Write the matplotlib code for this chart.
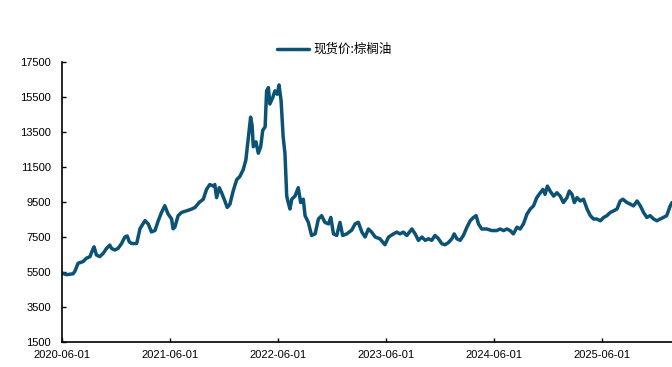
import matplotlib
matplotlib.use("Agg")
import matplotlib.pyplot as plt
import matplotlib.dates as mdates
import pandas as pd

plt.rcParams['font.family'] = ['Liberation Sans', 'Noto Sans CJK SC', 'DejaVu Sans']

series_name = "现货价:棕榈油"

dates = [
    "2020-06-01", "2020-06-17", "2020-07-09", "2020-07-15", "2020-07-26", "2020-08-12",
    "2020-08-23", "2020-09-04", "2020-09-15", "2020-09-18", "2020-09-26", "2020-10-07",
    "2020-10-19", "2020-10-30", "2020-11-10", "2020-11-16", "2020-11-27", "2020-12-08",
    "2020-12-20", "2020-12-31", "2021-01-08", "2021-01-15", "2021-01-23", "2021-02-09",
    "2021-02-20", "2021-03-09", "2021-03-20", "2021-03-31", "2021-04-12", "2021-04-23",
    "2021-05-04", "2021-05-15", "2021-05-26", "2021-06-07", "2021-06-12", "2021-06-18",
    "2021-06-29", "2021-07-11", "2021-07-28", "2021-08-14", "2021-08-25", "2021-09-08",
    "2021-09-22", "2021-10-03", "2021-10-14", "2021-10-26", "2021-10-31", "2021-11-06",
    "2021-11-15", "2021-11-23", "2021-12-04", "2021-12-12", "2021-12-21", "2022-01-01",
    "2022-01-13", "2022-01-24", "2022-02-04", "2022-02-13", "2022-02-18", "2022-02-24",
    "2022-03-01", "2022-03-06", "2022-03-10", "2022-03-19", "2022-03-27", "2022-04-04",
    "2022-04-11", "2022-04-19", "2022-04-24", "2022-04-30", "2022-05-05", "2022-05-15",
    "2022-05-22", "2022-05-30", "2022-06-05", "2022-06-12", "2022-06-19", "2022-06-25",
    "2022-07-01", "2022-07-06", "2022-07-12", "2022-07-18", "2022-07-29", "2022-08-09",
    "2022-08-17", "2022-08-26", "2022-09-01", "2022-09-12", "2022-09-23", "2022-10-05",
    "2022-10-16", "2022-10-27", "2022-11-07", "2022-11-19", "2022-11-27", "2022-12-06",
    "2022-12-17", "2022-12-28", "2023-01-06", "2023-01-20", "2023-02-06", "2023-02-17",
    "2023-02-28", "2023-03-12", "2023-03-23", "2023-04-03", "2023-04-14", "2023-04-26",
    "2023-05-12", "2023-05-29", "2023-06-10", "2023-06-27", "2023-07-08", "2023-07-19",
    "2023-07-30", "2023-08-11", "2023-08-28", "2023-09-08", "2023-09-19", "2023-10-01",
    "2023-10-12", "2023-10-23", "2023-11-03", "2023-11-14", "2023-11-26", "2023-12-07",
    "2023-12-18", "2023-12-29", "2024-01-10", "2024-01-18", "2024-01-27", "2024-02-07",
    "2024-02-18", "2024-03-01", "2024-03-12", "2024-03-23", "2024-04-01", "2024-04-09",
    "2024-04-20", "2024-05-07", "2024-05-24", "2024-06-10", "2024-06-21", "2024-07-03",
    "2024-07-14", "2024-07-25", "2024-08-05", "2024-08-17", "2024-08-28", "2024-09-08",
    "2024-09-20", "2024-10-01", "2024-10-12", "2024-10-23", "2024-11-04", "2024-11-13",
    "2024-11-20", "2024-11-28", "2024-12-07", "2024-12-19", "2024-12-30", "2025-01-10",
    "2025-01-21", "2025-02-02", "2025-02-10", "2025-02-19", "2025-02-27", "2025-03-08",
    "2025-03-19", "2025-03-30", "2025-04-11", "2025-04-22", "2025-05-03", "2025-05-14",
    "2025-05-26", "2025-06-06", "2025-06-17", "2025-06-28", "2025-07-10", "2025-07-21",
    "2025-08-01", "2025-08-10", "2025-08-24", "2025-09-04", "2025-09-15", "2025-09-27",
    "2025-10-08", "2025-10-19", "2025-10-30", "2025-11-10", "2025-11-22", "2025-12-03",
    "2025-12-14", "2025-12-25", "2026-01-05", "2026-01-17", "2026-01-23",
]

prices = [
    5440, 5350, 5400, 5540, 6000, 6100,
    6290, 6380, 6850, 6940, 6475, 6380,
    6570, 6850, 7040, 6850, 6760, 6850,
    7130, 7500, 7560, 7225, 7130, 7130,
    7970, 8440, 8250, 7790, 7880, 8440,
    8910, 9290, 8820, 8530, 7970, 8070,
    8720, 8910, 9000, 9100, 9190, 9475,
    9660, 10220, 10500, 10410, 10500, 9750,
    10320, 10030, 9560, 9190, 9375, 10130,
    10780, 10970, 11350, 11910, 12660, 13600,
    14350, 13880, 12660, 12940, 12290, 12660,
    13600, 13790, 15850, 16040, 15100, 15480,
    15850, 15660, 16190, 15290, 13220, 12290,
    9840, 9470, 9100, 9660, 9840, 10320,
    9470, 9660, 8720, 8340, 7590, 7680,
    8530, 8720, 8340, 8250, 8620, 7680,
    7590, 8340, 7590, 7680, 7900, 8250,
    8340, 7780, 7500, 7960, 7780, 7500,
    7400, 7060, 7500, 7680, 7780, 7680,
    7780, 7590, 7960, 7680, 7310, 7500,
    7310, 7400, 7310, 7590, 7400, 7120,
    7060, 7180, 7400, 7680, 7400, 7310,
    7590, 8060, 8430, 8620, 8720, 8250,
    7960, 7960, 7870, 7870, 7960, 7870,
    7960, 7870, 7680, 8060, 7960, 8250,
    8810, 9100, 9280, 9750, 10030, 10220,
    9940, 10410, 10130, 9840, 10030, 9840,
    9470, 9750, 10130, 9940, 9470, 9750,
    9560, 9660, 9100, 8720, 8530, 8530,
    8430, 8620, 8720, 8900, 9000, 9100,
    9560, 9660, 9470, 9380, 9280, 9560,
    9280, 8900, 8620, 8720, 8530, 8430,
    8530, 8620, 8720, 9280, 9470,
]

y_ticks = [1500, 3500, 5500, 7500, 9500, 11500, 13500, 15500, 17500]
x_tick_labels = ["2020-06-01", "2021-06-01", "2022-06-01", "2023-06-01", "2024-06-01", "2025-06-01"]

line_color = "#0B5274"

x = pd.to_datetime(dates)

fig = plt.figure(figsize=(6.72, 3.67), dpi=100)
ax = fig.add_axes([0.092, 0.068, 0.908, 0.763])

ax.plot(x, prices, color=line_color, linewidth=2.5, solid_joinstyle="round",
        solid_capstyle="round", label=series_name)

ax.set_ylim(y_ticks[0], y_ticks[-1])
ax.set_yticks(y_ticks)
ax.set_xlim(x[0], x[-1])
ax.set_xticks(pd.to_datetime(x_tick_labels))
ax.xaxis.set_major_formatter(mdates.DateFormatter("%Y-%m-%d"))

for side in ("top", "right"):
    ax.spines[side].set_visible(False)
for side in ("left", "bottom"):
    ax.spines[side].set_linewidth(1.2)
    ax.spines[side].set_color("black")

ax.tick_params(axis="both", direction="in", length=3, width=1, labelsize=8, colors="black")
ax.tick_params(axis="y", pad=8)
ax.tick_params(axis="x", pad=6)

fig.legend(loc="center", bbox_to_anchor=(0.497, 0.865), frameon=False,
           prop={"family": ["Noto Sans CJK SC", "DejaVu Sans"], "size": 9},
           handlelength=2.6, handletextpad=0.3)

fig.savefig("out.png", dpi=100)
